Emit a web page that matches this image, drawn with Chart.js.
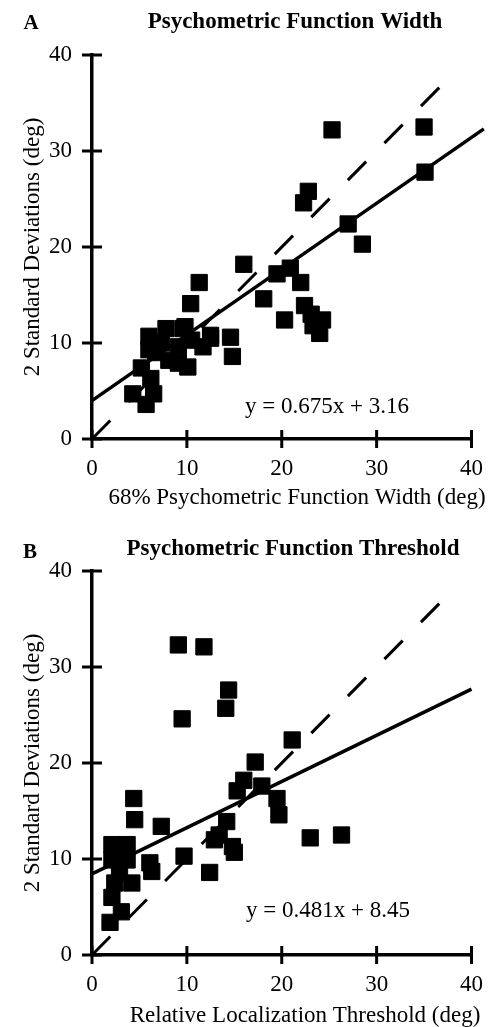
<!DOCTYPE html>
<html>
<head>
<meta charset="utf-8">
<title>Psychometric Function Width / Threshold</title>
<script src="https://cdn.jsdelivr.net/npm/chart.js@4.4.1/dist/chart.umd.min.js"></script>
<style>
  html, body { margin: 0; padding: 0; background: #fff; }
  .panel { position: absolute; left: 0; width: 499px; }
  #panelA { top: 0; height: 513px; }
  #panelB { top: 513px; height: 514px; }
</style>
</head>
<body>
<div class="panel" id="panelA"><canvas id="chartA" width="499" height="513"></canvas></div>
<div class="panel" id="panelB"><canvas id="chartB" width="499" height="514"></canvas></div>
<script>
// axis ticks (deg)
var tickValues = [0, 10, 20, 30, 40];

// panel A: 68% psychometric function width vs 2 SD
var widthX = [25.3, 35.0, 35.1, 22.8, 22.3, 27.0, 28.5, 16.0, 19.5, 20.9, 22.0, 11.3, 10.4, 18.1,
  20.3, 22.4, 23.1, 24.3, 23.3, 24.0, 14.6, 14.8, 12.5, 9.8,
  7.8, 9.6, 6.0, 6.0, 8.1, 10.1, 9.1, 12.5, 11.7, 10.5, 7.3, 9.1, 6.7, 5.2, 6.2, 4.3, 6.5, 5.7];
var widthY = [32.2, 32.5, 27.8, 25.8, 24.6, 22.4, 20.3, 18.2, 17.2, 17.8, 16.3, 16.3, 14.1, 14.6,
  12.4, 13.9, 13.0, 12.4, 11.8, 11.0, 10.6, 8.6, 10.8, 11.7,
  11.5, 11.5, 10.7, 9.3, 8.2, 7.5, 7.9, 10.5, 9.6, 10.3, 10.0, 9.6, 9.0, 7.4, 6.3, 4.7, 4.7, 3.6];
var widthFitX = [0, 41.3];
var widthFitY = [4.0, 32.3];

// panel B: relative localization threshold vs 2 SD
var threshX = [9.1, 11.8, 14.4, 14.1, 9.5, 21.1, 17.2, 16.0, 17.9, 15.3, 19.5, 19.7, 23.0, 26.3,
  4.4, 4.5, 7.3, 14.2, 13.4, 12.9, 14.8, 15.0, 12.4, 9.7, 6.1, 6.3,
  2.1, 3.7, 2.1, 3.7, 2.9, 4.2, 2.4, 2.1, 3.1, 1.9];
var threshY = [32.3, 32.1, 27.6, 25.7, 24.6, 22.4, 20.1, 18.2, 17.6, 17.1, 16.3, 14.6, 12.2, 12.5,
  16.3, 14.1, 13.4, 13.9, 12.5, 12.0, 11.3, 10.7, 8.6, 10.3, 9.6, 8.7,
  11.5, 11.5, 9.9, 9.9, 8.6, 7.5, 7.5, 6.0, 4.5, 3.4];
var threshFitX = [0, 40];
var threshFitY = [8.45, 27.7];

// unity line
var unityX = [0, 38];
var unityY = [0, 38];

var serif = "'Liberation Serif', 'Times New Roman', serif";

function toPoints(xs, ys) {
  var pts = [];
  for (var i = 0; i < xs.length; i++) {
    pts.push({ x: xs[i], y: ys[i] });
  }
  return pts;
}

// short tick marks that cross the axis lines
var crossTicks = {
  id: 'crossTicks',
  afterDraw: function (chart) {
    var ctx = chart.ctx, xs = chart.scales.x, ys = chart.scales.y;
    ctx.save();
    ctx.strokeStyle = '#000';
    ctx.lineWidth = 3;
    xs.ticks.forEach(function (t) {
      var px = xs.getPixelForValue(t.value);
      ctx.beginPath();
      ctx.moveTo(px, ys.bottom - 9);
      ctx.lineTo(px, ys.bottom + 9);
      ctx.stroke();
    });
    ys.ticks.forEach(function (t) {
      var py = ys.getPixelForValue(t.value);
      ctx.beginPath();
      ctx.moveTo(xs.left - 10, py);
      ctx.lineTo(xs.left + 10, py);
      ctx.stroke();
    });
    ctx.restore();
  }
};

// panel letter, title, x title and fit equation
var panelText = {
  id: 'panelText',
  afterDraw: function (chart, args, opts) {
    var ctx = chart.ctx;
    ctx.save();
    ctx.fillStyle = '#000';
    ctx.textBaseline = 'alphabetic';
    opts.items.forEach(function (it) {
      ctx.font = it.font;
      ctx.textAlign = it.align;
      ctx.fillText(it.text, it.x, it.y);
    });
    ctx.restore();
  }
};

function makeChart(canvasId, xs, ys, fitX, fitY, opt) {
  var ctx = document.getElementById(canvasId);
  return new Chart(ctx, {
    type: 'scatter',
    data: {
      datasets: [{
        data: toPoints(xs, ys),
        pointStyle: 'rect',
        pointRadius: 11.5,
        pointHoverRadius: 11.5,
        backgroundColor: '#000',
        borderColor: '#000',
        borderWidth: 1,
        clip: false
      }, {
        type: 'line',
        data: toPoints(fitX, fitY),
        borderColor: '#000',
        borderWidth: 3.5,
        pointRadius: 0,
        fill: false,
        clip: false
      }, {
        type: 'line',
        data: toPoints(unityX, unityY),
        borderColor: '#000',
        borderWidth: 3,
        borderDash: [26, 26],
        pointRadius: 0,
        fill: false,
        clip: false
      }]
    },
    options: {
      responsive: false,
      animation: false,
      layout: {
        padding: { left: 0, top: opt.top, right: opt.right, bottom: 0 }
      },
      plugins: {
        legend: { display: false },
        tooltip: { enabled: false },
        panelText: { items: opt.texts }
      },
      scales: {
        x: {
          type: 'linear',
          min: 0, max: 40,
          afterBuildTicks: function (scale) {
            scale.ticks = tickValues.map(function (v) { return { value: v }; });
          },
          afterFit: function (scale) { scale.height = opt.xHeight; },
          grid: { display: false, drawTicks: false },
          border: { display: true, color: '#000', width: 3.5 },
          ticks: { color: '#000', padding: 16, font: { family: serif, size: 23 } }
        },
        y: {
          type: 'linear',
          min: 0, max: 40,
          afterBuildTicks: function (scale) {
            scale.ticks = tickValues.map(function (v) { return { value: v }; });
          },
          afterFit: function (scale) { scale.width = 92; },
          grid: { display: false, drawTicks: false },
          border: { display: true, color: '#000', width: 3.5 },
          ticks: { color: '#000', padding: 20, font: { family: serif, size: 23 } },
          title: {
            display: true,
            text: '2 Standard Deviations (deg)',
            color: '#000',
            font: { family: serif, size: 23 },
            padding: { top: 19, bottom: 0 }
          }
        }
      }
    },
    plugins: [crossTicks, panelText]
  });
}

makeChart('chartA', widthX, widthY, widthFitX, widthFitY, {
  top: 55, right: 20, xHeight: 74,
  texts: [
    { text: 'A', x: 31, y: 29, align: 'center', font: 'bold 21px ' + serif },
    { text: 'Psychometric Function Width', x: 295, y: 28, align: 'center', font: 'bold 23px ' + serif },
    { text: '68% Psychometric Function Width (deg)', x: 297, y: 504, align: 'center', font: '23px ' + serif },
    { text: 'y = 0.675x + 3.16', x: 245, y: 413, align: 'left', font: '23px ' + serif }
  ]
});

makeChart('chartB', threshX, threshY, threshFitX, threshFitY, {
  top: 58, right: 25, xHeight: 72,
  texts: [
    { text: 'B', x: 30, y: 45, align: 'center', font: 'bold 21px ' + serif },
    { text: 'Psychometric Function Threshold', x: 293, y: 42, align: 'center', font: 'bold 23px ' + serif },
    { text: 'Relative Localization Threshold (deg)', x: 305, y: 509, align: 'center', font: '23px ' + serif },
    { text: 'y = 0.481x + 8.45', x: 246, y: 404, align: 'left', font: '23px ' + serif }
  ]
});
</script>
</body>
</html>
